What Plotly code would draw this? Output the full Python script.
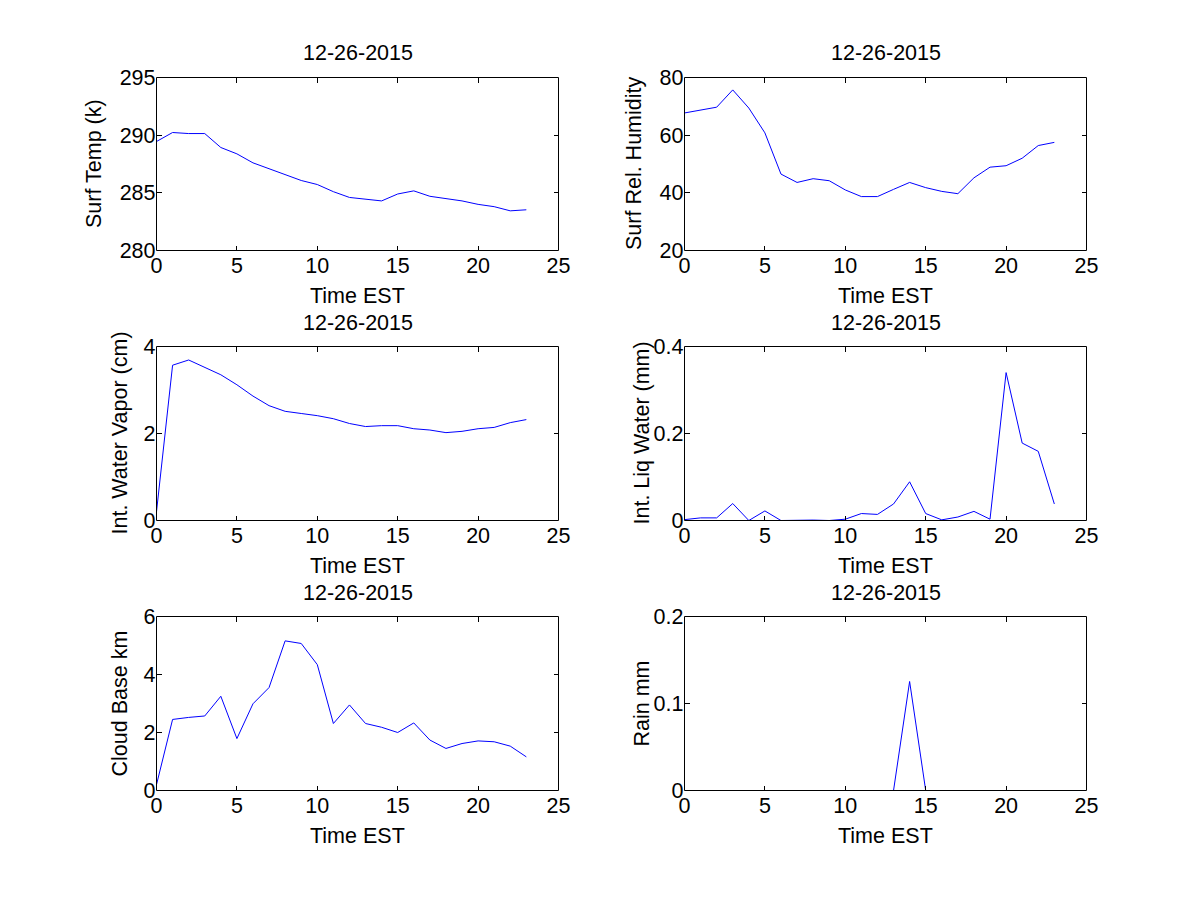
import plotly.graph_objects as go

hours = list(range(24))
surf_temp = [289.45, 290.23, 290.14, 290.14, 288.93, 288.38, 287.6, 287.08, 286.6, 286.07,
             285.72, 285.1, 284.6, 284.45, 284.3, 284.9, 285.17, 284.7, 284.5, 284.3,
             284.0, 283.8, 283.44, 283.53]
surf_rh = [67.7, 68.8, 69.7, 75.7, 69.4, 60.8, 46.5, 43.6, 44.9, 44.2, 41.0, 38.7,
           38.7, 41.2, 43.6, 41.8, 40.5, 39.7, 45.2, 48.9, 49.4, 52.0, 56.4, 57.5]
water_vapor = [0.2, 3.57, 3.69, 3.52, 3.35, 3.12, 2.86, 2.64, 2.51, 2.46, 2.41, 2.34,
               2.23, 2.16, 2.18, 2.18, 2.11, 2.08, 2.02, 2.05, 2.11, 2.14, 2.25, 2.32]
liq_water = [0.002, 0.006, 0.006, 0.039, 0.0, 0.022, 0.0, 0.001, 0.001, 0.0, 0.003, 0.016,
             0.014, 0.038, 0.089, 0.016, 0.0015, 0.008, 0.021, 0.003, 0.340, 0.178, 0.159, 0.038]
cloud_base = [0.2, 2.45, 2.52, 2.57, 3.25, 1.79, 2.99, 3.55, 5.16, 5.07, 4.34, 2.31,
              2.95, 2.31, 2.18, 2.0, 2.33, 1.74, 1.45, 1.62, 1.71, 1.68, 1.53, 1.16]
rain = [0, 0, 0, 0, 0, 0, 0, 0, 0, 0, 0, 0, 0, 0, 0.1253, 0, 0, 0, 0, 0, 0, 0, 0, 0]

date_title = "12-26-2015"
x_title = "Time EST"
x_ticks = [0, 5, 10, 15, 20, 25]

panels = [
    dict(y=surf_temp, ylabel="Surf Temp (k)", yrange=[280, 295], yticks=[280, 285, 290, 295]),
    dict(y=surf_rh, ylabel="Surf Rel. Humidity", yrange=[20, 80], yticks=[20, 40, 60, 80]),
    dict(y=water_vapor, ylabel="Int. Water Vapor (cm)", yrange=[0, 4], yticks=[0, 2, 4]),
    dict(y=liq_water, ylabel="Int. Liq Water (mm)", yrange=[0, 0.4], yticks=[0, 0.2, 0.4]),
    dict(y=cloud_base, ylabel="Cloud Base km", yrange=[0, 6], yticks=[0, 2, 4, 6]),
    dict(y=rain, ylabel="Rain mm", yrange=[0, 0.2], yticks=[0, 0.1, 0.2]),
]

W, H = 1200, 900
col_px = [(156.5, 558.5), (684.5, 1086.5)]
row_px = [(77.5, 250.5), (346.5, 520.5), (616.5, 790.5)]
ylabel_x = [[94, 634], [119, 641], [119, 641]]

font = dict(family="Liberation Sans, Arial, sans-serif", size=21.5, color="black")

fig = go.Figure()
annotations = []
shapes = []
layout = {}
for i, p in enumerate(panels):
    r, c = divmod(i, 2)
    n = i + 1
    xa = "xaxis" if n == 1 else f"xaxis{n}"
    ya = "yaxis" if n == 1 else f"yaxis{n}"
    xref = "x" if n == 1 else f"x{n}"
    yref = "y" if n == 1 else f"y{n}"
    x0, x1 = col_px[c]
    t, b = row_px[r]
    fig.add_trace(go.Scatter(x=hours, y=p["y"], mode="lines",
                             line=dict(color="#0000ff", width=1),
                             xaxis=xref, yaxis=yref, showlegend=False,
                             hoverinfo="skip"))
    common = dict(showline=False, mirror="ticks", automargin=False,
                  ticks="inside", ticklen=5, tickcolor="black", tickwidth=1,
                  showgrid=False, zeroline=False, tickfont=font, fixedrange=True)
    layout[xa] = dict(domain=[x0 / W, x1 / W], anchor=yref, range=[0, 25],
                      tickvals=x_ticks, **common)
    layout[ya] = dict(domain=[1 - b / H, 1 - t / H], anchor=xref, range=p["yrange"],
                      tickvals=p["yticks"], **common)
    shapes.append(dict(type="rect", xref=f"{xref} domain", yref=f"{yref} domain",
                       x0=0, x1=1, y0=0, y1=1, line=dict(color="black", width=1),
                       fillcolor="rgba(0,0,0,0)", layer="above"))
    xc = (x0 + x1) / 2 / W
    annotations.append(dict(text=date_title, x=xc, y=1 - (t - 24) / H, xref="paper", yref="paper",
                            xanchor="center", yanchor="middle", showarrow=False, font=font))
    annotations.append(dict(text=x_title, x=xc, y=1 - (b + 45) / H, xref="paper", yref="paper",
                            xanchor="center", yanchor="middle", showarrow=False, font=font))
    annotations.append(dict(text=p["ylabel"], x=ylabel_x[r][c] / W, y=1 - (t + b) / 2 / H,
                            xref="paper", yref="paper", xanchor="center", yanchor="middle",
                            textangle=-90, showarrow=False, font=font))

fig.update_layout(width=W, height=H, autosize=False,
                  margin=dict(l=0, r=0, t=0, b=0, pad=0, autoexpand=False),
                  paper_bgcolor="white", plot_bgcolor="white",
                  annotations=annotations, shapes=shapes, font=font, **layout)
fig.write_html("out.html", config={"displayModeBar": False},
               post_script="document.body.style.margin='0';document.body.style.overflow='hidden';")
